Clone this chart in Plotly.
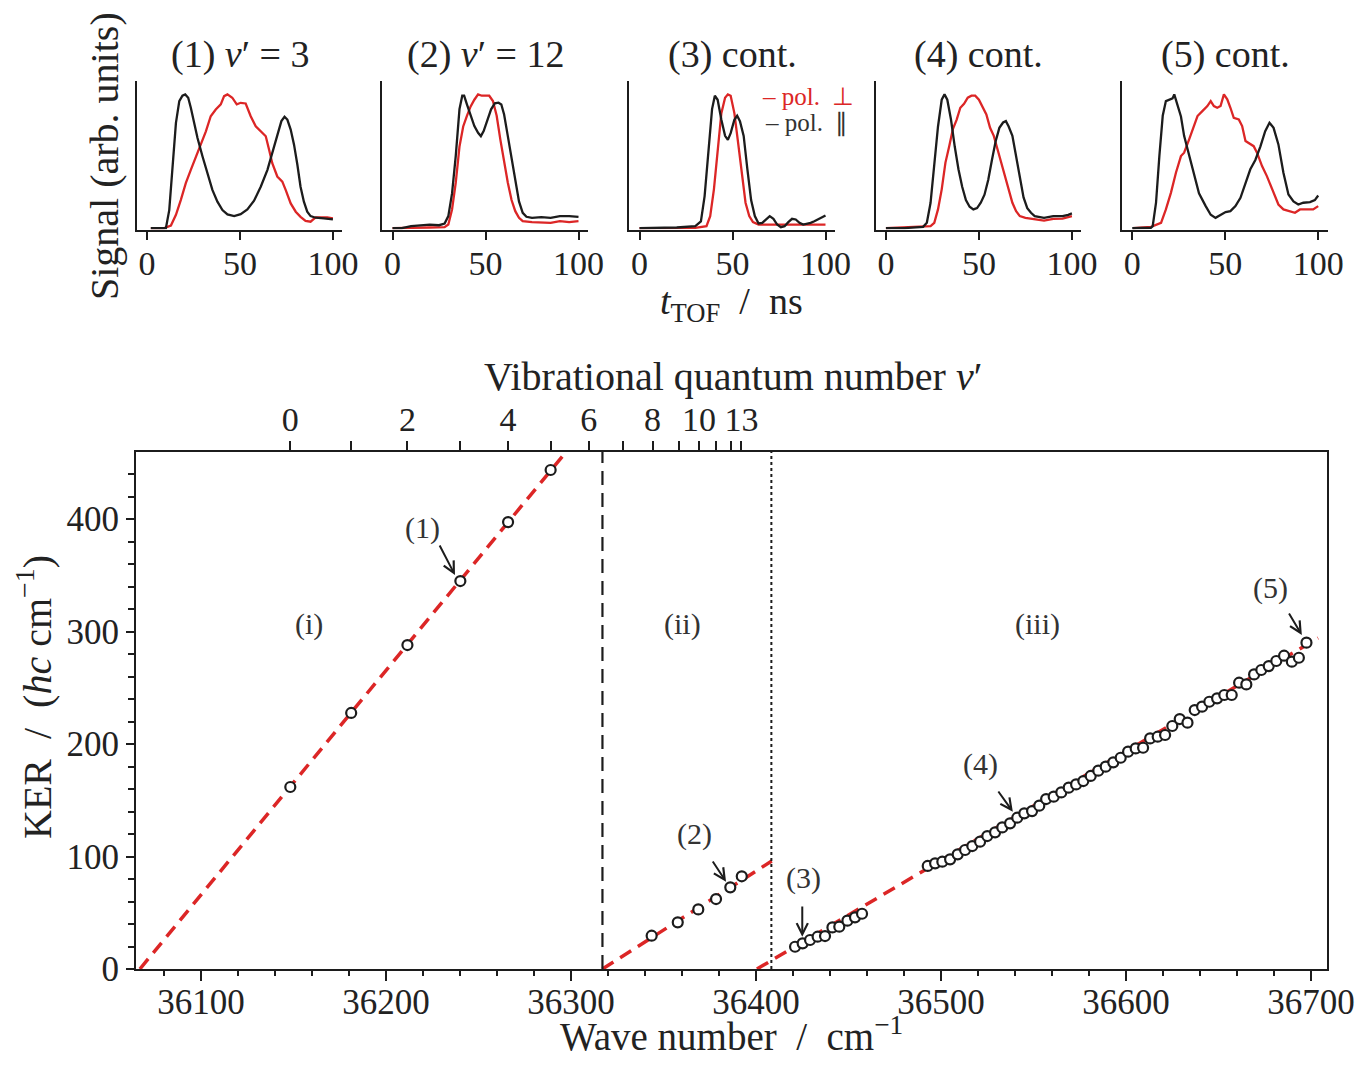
import plotly.graph_objects as go

# ---------------- top panels: TOF traces (t in ns, normalised signal) ----------------
panel_titles = ["(1) <i>v</i>′ = 3", "(2) <i>v</i>′ = 12", "(3) cont.", "(4) cont.", "(5) cont."]

t1_par = [2.1, 10.2, 12.0, 13.8, 15.6, 17.4, 19.1, 20.6, 22.2, 23.6, 25.4, 27.2, 29.9, 32.6, 35.2, 37.9, 40.6, 43.3, 46.9, 50.4, 54.0, 57.6, 61.2, 64.8, 67.4, 70.1, 72.3, 74.0, 75.5, 77.3, 79.1, 80.9, 82.6, 84.4, 86.2, 88.0, 90.7, 95.2, 100]
s1_par = [0.0, 0.0, 0.135, 0.436, 0.787, 0.95, 0.99, 1.0, 0.975, 0.90, 0.787, 0.674, 0.536, 0.398, 0.286, 0.198, 0.135, 0.103, 0.09, 0.105, 0.14, 0.205, 0.31, 0.436, 0.561, 0.70, 0.80, 0.832, 0.812, 0.737, 0.624, 0.474, 0.31, 0.198, 0.123, 0.09, 0.078, 0.073, 0.065]
t1_perp = [2.1, 9.3, 12.9, 15.6, 18.2, 20.9, 23.6, 26.3, 29.0, 31.7, 34.3, 37.0, 39.7, 41.5, 43.3, 45.9, 48.3, 50.4, 53.1, 55.8, 58.5, 61.2, 63.9, 65.7, 67.4, 70.1, 72.8, 74.6, 77.3, 80.0, 82.6, 85.3, 88.0, 90.7, 94.3, 97.0, 100]
s1_perp = [0.0, 0.0, 0.02, 0.10, 0.21, 0.336, 0.436, 0.536, 0.624, 0.724, 0.837, 0.887, 0.925, 0.987, 1.0, 0.975, 0.925, 0.937, 0.932, 0.837, 0.762, 0.724, 0.687, 0.586, 0.486, 0.386, 0.348, 0.286, 0.185, 0.123, 0.085, 0.055, 0.048, 0.08, 0.08, 0.08, 0.073]

t2_par = [0, 5, 10, 15, 20, 25, 28, 30, 32, 34, 36, 37.5, 38.5, 40, 42, 44, 46, 47.5, 49, 51, 53, 55, 57, 58.5, 60, 62, 64, 66, 68, 70, 72, 75, 80, 85, 90, 95, 100]
s2_par = [0, 0, 0.015, 0.022, 0.027, 0.022, 0.035, 0.09, 0.26, 0.54, 0.89, 0.99, 0.99, 0.925, 0.838, 0.763, 0.713, 0.688, 0.726, 0.813, 0.888, 0.933, 0.938, 0.925, 0.85, 0.688, 0.514, 0.339, 0.20, 0.115, 0.085, 0.077, 0.082, 0.077, 0.09, 0.09, 0.085]
t2_perp = [0, 10, 20, 28, 30, 32, 34, 36, 38, 40, 42, 44, 46, 48, 50, 52, 54, 56, 58, 60, 62, 64, 66, 68, 70, 75, 80, 85, 90, 95, 100]
s2_perp = [0, 0.005, 0.005, 0.007, 0.027, 0.14, 0.34, 0.61, 0.76, 0.84, 0.91, 0.96, 1.0, 0.99, 0.99, 0.99, 0.95, 0.84, 0.66, 0.49, 0.34, 0.21, 0.127, 0.077, 0.052, 0.045, 0.04, 0.04, 0.052, 0.045, 0.052]

t3_par = [0, 20, 30, 33, 35, 37, 39, 40.5, 42, 44, 46, 47.5, 49, 51, 52.5, 54, 56, 58, 60, 62, 64, 66, 68, 70, 72, 74, 76, 78, 80, 82, 84, 86, 88, 90, 92, 94, 97, 100]
s3_par = [0, 0.005, 0.015, 0.05, 0.24, 0.56, 0.89, 0.99, 0.96, 0.81, 0.69, 0.66, 0.71, 0.81, 0.84, 0.80, 0.69, 0.44, 0.21, 0.09, 0.035, 0.04, 0.065, 0.09, 0.07, 0.027, 0.007, 0.015, 0.045, 0.07, 0.065, 0.04, 0.027, 0.032, 0.04, 0.052, 0.072, 0.095]
t3_perp = [0, 30, 36, 38, 40, 42, 44, 46, 47.5, 49, 51, 53, 55, 57, 59, 61, 64, 70, 80, 90, 100]
s3_perp = [0, 0.002, 0.015, 0.09, 0.29, 0.59, 0.86, 0.975, 1.0, 0.99, 0.86, 0.64, 0.39, 0.19, 0.09, 0.045, 0.027, 0.027, 0.027, 0.032, 0.027]

t4_par = [0, 10, 20, 22, 24, 26, 28, 30, 31.5, 33, 35, 37, 39, 41, 43, 45, 47, 49, 51, 53, 55, 57, 59, 61, 63, 64.5, 66, 68, 70, 72, 74, 76, 78, 80, 85, 90, 95, 98, 100]
s4_par = [0, 0, 0.01, 0.04, 0.19, 0.49, 0.76, 0.96, 1.0, 0.96, 0.81, 0.61, 0.44, 0.31, 0.21, 0.16, 0.14, 0.15, 0.19, 0.25, 0.36, 0.51, 0.65, 0.75, 0.79, 0.80, 0.76, 0.69, 0.53, 0.36, 0.23, 0.15, 0.115, 0.09, 0.077, 0.09, 0.09, 0.10, 0.11]
t4_perp = [0, 20, 24, 26, 28, 30, 32, 34, 36, 38, 40, 42, 44, 46, 48, 50, 52, 54, 56, 58, 60, 62, 64, 66, 68, 70, 72, 75, 80, 85, 90, 95, 100]
s4_perp = [0, 0.01, 0.015, 0.04, 0.14, 0.29, 0.49, 0.61, 0.74, 0.81, 0.90, 0.93, 0.975, 0.99, 0.99, 0.96, 0.90, 0.85, 0.75, 0.69, 0.59, 0.49, 0.39, 0.29, 0.19, 0.127, 0.09, 0.077, 0.065, 0.057, 0.07, 0.072, 0.09]

t5_par = [0, 5, 10, 11, 12.8, 14.6, 16.4, 18.1, 19.9, 21.7, 22.6, 24.4, 26.2, 27.9, 30.6, 33.3, 35.9, 39.5, 42.2, 44.8, 47.5, 50.2, 52.8, 55.5, 58.2, 60.9, 63.5, 66.2, 68.9, 71.5, 73.8, 76.0, 78.6, 81.3, 84.0, 86.7, 89.3, 92.0, 95.6, 98.2, 100]
s5_par = [0, 0, 0.003, 0.015, 0.19, 0.54, 0.84, 0.95, 0.96, 0.97, 1.0, 0.91, 0.835, 0.69, 0.54, 0.39, 0.26, 0.165, 0.10, 0.077, 0.10, 0.12, 0.127, 0.165, 0.227, 0.34, 0.44, 0.51, 0.61, 0.725, 0.788, 0.75, 0.626, 0.414, 0.252, 0.20, 0.177, 0.19, 0.195, 0.21, 0.244]
t5_perp = [0.4, 10.1, 15.5, 18.1, 20.8, 23.5, 26.2, 27.9, 30.6, 33.3, 35.1, 37.7, 40.4, 42.2, 43.9, 45.7, 47.5, 49.3, 51.1, 52.8, 54.6, 57.3, 59.1, 60.9, 63.5, 65.3, 67.1, 69.8, 72.4, 76.0, 78.6, 81.3, 84.9, 87.5, 90.2, 93.8, 97.3, 100]
s5_perp = [0, 0.01, 0.04, 0.14, 0.264, 0.414, 0.539, 0.564, 0.663, 0.763, 0.838, 0.875, 0.913, 0.95, 0.913, 0.90, 0.913, 1.0, 0.963, 0.90, 0.825, 0.813, 0.763, 0.651, 0.626, 0.613, 0.564, 0.464, 0.389, 0.264, 0.177, 0.14, 0.127, 0.115, 0.14, 0.14, 0.14, 0.165]

tof_ticks = [0, 50, 100]

# ---------------- main panel: KER vs wave number ----------------
wn_i = [36148.3, 36181.2, 36211.6, 36240.2, 36266.0, 36289.0]
ker_i = [161.8, 227.6, 288.0, 344.9, 397.3, 443.6]
wn_ii = [36343.6, 36357.7, 36368.8, 36378.4, 36386.1, 36392.3]
ker_ii = [29.6, 41.5, 53.0, 62.2, 72.6, 82.4]
wn_iii = [36421.1, 36425.2, 36429.2, 36433.3, 36437.3, 36441.3, 36445.0, 36449.4, 36453.5, 36457.3,
          36492.8, 36496.8, 36500.7, 36504.9, 36509.0, 36513.0, 36516.9, 36521.1, 36525.0, 36529.2,
          36533.1, 36537.3, 36541.2, 36545.0, 36549.2, 36553.1, 36556.8, 36560.9, 36565.0, 36569.0,
          36573.0, 36576.9, 36580.9, 36585.0, 36589.0, 36593.1, 36597.1, 36601.1, 36605.2, 36609.2,
          36613.0, 36617.1, 36621.1, 36625.0, 36629.0, 36633.2, 36637.1, 36641.1, 36645.0, 36649.2,
          36653.1, 36657.1, 36661.1, 36665.0, 36669.2, 36673.1, 36677.1, 36681.2, 36685.4, 36689.6,
          36693.4, 36697.5]
ker_iii = [19.8, 22.8, 25.8, 28.7, 29.3, 37.0, 37.6, 43.0, 45.9, 49.1,
           91.6, 93.9, 95.4, 97.5, 101.9, 105.8, 109.3, 113.2, 118.2, 121.5,
           125.9, 129.5, 134.5, 138.4, 140.4, 145.2, 151.1, 153.2, 157.0, 161.2,
           164.1, 167.1, 171.6, 176.3, 179.9, 183.7, 187.8, 193.2, 196.1, 196.7,
           205.0, 206.5, 208.0, 216.0, 222.2, 219.0, 230.2, 233.2, 237.6, 240.6,
           243.6, 243.6, 254.5, 253.0, 261.9, 265.8, 269.3, 273.8, 278.5, 273.2,
           276.7, 290.1]

fit_i_wn = [36067.0, 36297.3]
fit_i_ker = [0, 459.6]
fit_ii_wn = [36317.0, 36408.5]
fit_ii_ker = [0, 96.0]
fit_iii_wn = [36400.5, 36703.8]
fit_iii_ker = [0, 294.2]
dissoc_limit_wn = 36317.0
cont_limit_wn = 36408.3

v_wn = [36148.3, 36181.2, 36211.6, 36240.2, 36266.0, 36289.0, 36309.6,
        36328.1, 36344.1, 36358.2, 36369.2, 36378.6, 36386.3, 36392.1]
v_labels = ["0", "", "2", "", "4", "", "6", "", "8", "", "10", "", "", "13"]

wn_ticks = [36100, 36200, 36300, 36400, 36500, 36600, 36700]
wn_tick_text = ["36100", "36200", "36300", "36400", "36500", "36600", "36700"]
ker_ticks = [0, 100, 200, 300, 400]

region_labels = ["(i)", "(ii)", "(iii)"]
region_wn = [36158.4, 36360.5, 36552.4]
region_ker = [306.7, 306.7, 306.7]

mark_labels = ["(1)", "(2)", "(3)", "(4)", "(5)"]
mark_label_wn = [36220.0, 36366.5, 36425.9, 36521.1, 36677.8]
mark_label_ker = [392.0, 120.0, 80.9, 182.2, 338.7]
arrow_tail_wn = [36228.6, 36376.1, 36425.0, 36530.4, 36687.6]
arrow_tail_ker = [377.8, 96.9, 56.9, 159.1, 317.3]
arrow_tip_wn = [36237.3, 36383.8, 36425.0, 36538.8, 36695.0]
arrow_tip_ker = [350.2, 77.6, 28.7, 139.8, 296.9]

# ---------------- styling ----------------
W, H = 1358, 1074
RED = "#dc2626"
BLK = "#1c1c1c"
FONT = "Liberation Serif"
TXT = "#222222"

fig = go.Figure()


def px_x(p):
    return p / W


def px_y(p):
    return 1 - p / H


def note(text, x, y, size, color=TXT, angle=0):
    return dict(text=text, xref="paper", yref="paper", x=px_x(x), y=px_y(y), xanchor="center",
                yanchor="middle", textangle=angle, showarrow=False,
                font=dict(family=FONT, size=size, color=color))


panel_left = [136.7, 382.3, 629.3, 875.7, 1122.0]
panel_w = 205.5
top_dom = [px_y(229.5), px_y(81)]

tof = [(t1_perp, s1_perp, t1_par, s1_par), (t2_perp, s2_perp, t2_par, s2_par),
       (t3_perp, s3_perp, t3_par, s3_par), (t4_perp, s4_perp, t4_par, s4_par),
       (t5_perp, s5_perp, t5_par, s5_par)]

layout = {}
annotations = []
for i, (tp, sp, tq, sq) in enumerate(tof):
    k = i + 1
    xa = "x" if k == 1 else f"x{k}"
    ya = "y" if k == 1 else f"y{k}"
    fig.add_trace(go.Scatter(x=tp, y=sp, xaxis=xa, yaxis=ya, mode="lines",
                             line=dict(color=RED, width=2.3), showlegend=False, hoverinfo="skip"))
    fig.add_trace(go.Scatter(x=tq, y=sq, xaxis=xa, yaxis=ya, mode="lines",
                             line=dict(color=BLK, width=2.3), showlegend=False, hoverinfo="skip"))
    kx = "xaxis" if k == 1 else f"xaxis{k}"
    ky = "yaxis" if k == 1 else f"yaxis{k}"
    layout[kx] = dict(domain=[px_x(panel_left[i]), px_x(panel_left[i] + panel_w)], anchor=ya,
                      range=[-5.5, 105], tickvals=tof_ticks, ticks="outside", ticklen=8, tickwidth=2,
                      ticklabelstandoff=-5,
                      tickcolor=BLK, showline=True, linewidth=2, linecolor=BLK, showgrid=False,
                      zeroline=False, automargin=False, tickfont=dict(family=FONT, size=34, color=TXT))
    layout[ky] = dict(domain=top_dom, anchor=xa, range=[-0.01, 1.1], showticklabels=False,
                      ticks="", showline=True, linewidth=2, linecolor=BLK, showgrid=False,
                      zeroline=False, automargin=False)
    annotations.append(note(panel_titles[i], panel_left[i] + 103, 55, 38))

# legend inside panel 3
annotations.append(note("– pol.  ⊥", 808, 96, 25, RED))
annotations.append(note("– pol.  ∥", 806, 123, 25, "#333333"))
annotations.append(note("Signal (arb. units)", 105, 156, 40, angle=-90))
annotations.append(note("<i>t</i><sub>TOF</sub>  /  ns", 731, 304, 38))

# main panel
for fx, fy in [(fit_i_wn, fit_i_ker), (fit_ii_wn, fit_ii_ker), (fit_iii_wn, fit_iii_ker)]:
    fig.add_trace(go.Scatter(x=fx, y=fy, xaxis="x6", yaxis="y6", mode="lines",
                             line=dict(color=RED, width=3.5, dash="13px,8px"),
                             showlegend=False, hoverinfo="skip"))
fig.add_trace(go.Scatter(x=[dissoc_limit_wn, dissoc_limit_wn], y=[0, 459.6], xaxis="x6", yaxis="y6",
                         mode="lines", line=dict(color=BLK, width=2.2, dash="14px,8px"),
                         showlegend=False, hoverinfo="skip"))
fig.add_trace(go.Scatter(x=[cont_limit_wn, cont_limit_wn], y=[0, 459.6], xaxis="x6", yaxis="y6",
                         mode="lines", line=dict(color=BLK, width=2, dash="dot"),
                         showlegend=False, hoverinfo="skip"))
for wx, ky_ in [(wn_i, ker_i), (wn_ii, ker_ii), (wn_iii, ker_iii)]:
    fig.add_trace(go.Scatter(x=wx, y=ky_, xaxis="x6", yaxis="y6", mode="markers",
                             marker=dict(symbol="circle", size=10, color="white",
                                         line=dict(color=BLK, width=2.2)),
                             showlegend=False, hoverinfo="skip"))
# invisible trace to carry the top (vibrational) axis
fig.add_trace(go.Scatter(x=v_wn, y=[0] * len(v_wn), xaxis="x7", yaxis="y6", mode="markers",
                         marker=dict(opacity=0), showlegend=False, hoverinfo="skip"))

main_x_range = [36064.9, 36708.6]
layout["xaxis6"] = dict(domain=[px_x(136), px_x(1327)], anchor="y6", range=main_x_range,
                        tickvals=wn_ticks, ticktext=wn_tick_text, ticks="outside", ticklen=10,
                        tickwidth=2, tickcolor=BLK, ticklabelstandoff=-9,
                        minor=dict(dtick=20, ticks="outside", ticklen=5, tickwidth=1.5, tickcolor=BLK),
                        showline=True, mirror=True, linewidth=2, linecolor=BLK, showgrid=False,
                        zeroline=False, automargin=False, tickfont=dict(family=FONT, size=35, color=TXT))
layout["yaxis6"] = dict(domain=[px_y(969), px_y(452)], anchor="x6", range=[0, 459.6],
                        tickvals=ker_ticks, ticks="outside", ticklen=8, tickwidth=2, tickcolor=BLK,
                        minor=dict(dtick=20, ticks="outside", ticklen=6, tickwidth=1.5, tickcolor=BLK),
                        showline=True, mirror=True, linewidth=2, linecolor=BLK, showgrid=False,
                        zeroline=False, automargin=False, tickfont=dict(family=FONT, size=35, color=TXT))
layout["xaxis7"] = dict(overlaying="x6", anchor="y6", side="top", range=main_x_range,
                        tickvals=v_wn, ticktext=v_labels, ticks="outside", ticklen=10, tickwidth=1.8,
                        ticklabelstandoff=-4,
                        tickcolor=BLK, showline=False, showgrid=False, zeroline=False, automargin=False,
                        tickfont=dict(family=FONT, size=34, color=TXT))

for lab, xw, yk in zip(region_labels + mark_labels, region_wn + mark_label_wn,
                       region_ker + mark_label_ker):
    annotations.append(dict(text=lab, x=xw, y=yk, xref="x6", yref="y6", xanchor="center",
                            yanchor="middle", showarrow=False,
                            font=dict(family=FONT, size=30, color="#333333")))
for tx, ty, hx, hy in zip(arrow_tail_wn, arrow_tail_ker, arrow_tip_wn, arrow_tip_ker):
    annotations.append(dict(text="", x=hx, y=hy, ax=tx, ay=ty, xref="x6", yref="y6",
                            axref="x6", ayref="y6", showarrow=True, arrowhead=5, arrowsize=1.1,
                            arrowwidth=2, arrowcolor=BLK))

annotations.append(note("Wave number  /  cm<sup>−1</sup>", 731, 1034, 39))
annotations.append(note("KER  /  (<i>hc</i> cm<sup>−1</sup>)", 34, 697, 40, angle=-90))
annotations.append(note("Vibrational quantum number <i>v</i>′", 733, 377, 40))

fig.update_layout(width=W, height=H, autosize=False,
                  margin=dict(l=0, r=0, t=0, b=0, pad=0, autoexpand=False),
                  paper_bgcolor="white", plot_bgcolor="white", showlegend=False,
                  annotations=annotations, **layout)

page_fix = ("document.documentElement.style.margin='0';document.documentElement.style.padding='0';"
            "document.documentElement.style.overflow='hidden';"
            "document.body.style.margin='0';document.body.style.padding='0';"
            "document.body.style.overflow='hidden';")
fig.write_html("out.html", post_script=page_fix, config={"displayModeBar": False})
